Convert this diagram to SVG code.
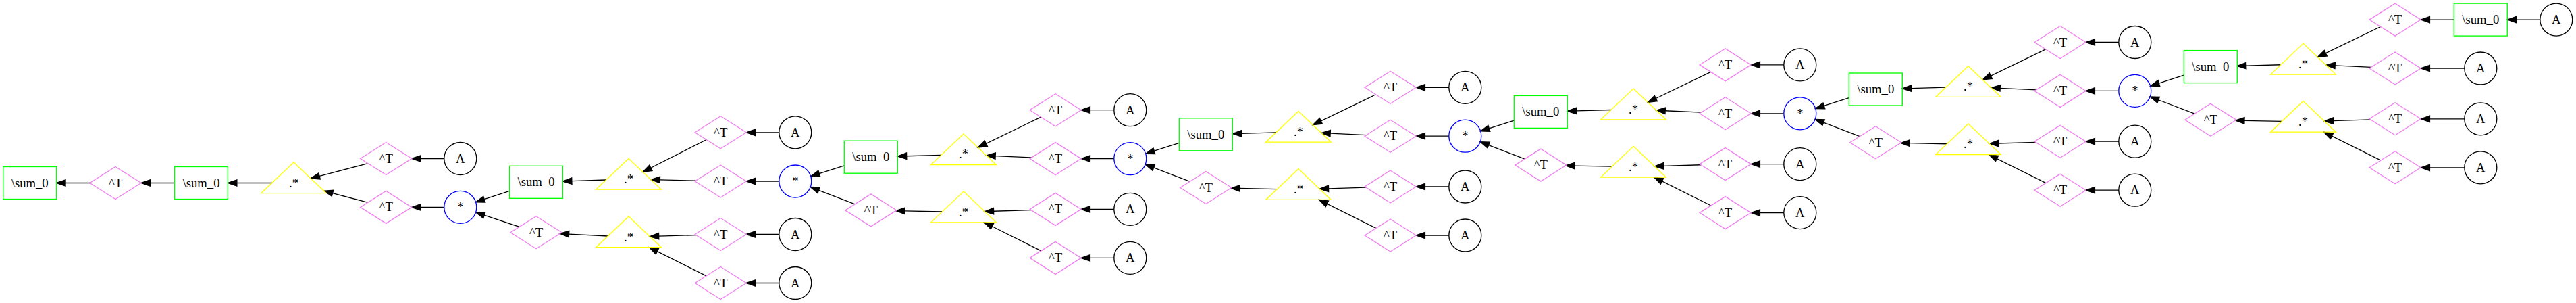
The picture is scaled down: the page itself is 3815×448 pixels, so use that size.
<svg xmlns="http://www.w3.org/2000/svg" width="3815" height="448" viewBox="0 0 3815 448">
<style>
.box{fill:none;stroke:#00ff00;stroke-width:1.33}
.dia{fill:none;stroke:#ee82ee;stroke-width:1.33}
.tri{fill:none;stroke:#ffff00;stroke-width:1.33}
.cir{fill:none;stroke:#000000;stroke-width:1.33}
.mul{fill:none;stroke:#0000ff;stroke-width:1.33}
text{font-family:"Liberation Serif","Times New Roman",serif;font-size:18.67px;text-anchor:middle;fill:#000;stroke:none}
.e path{fill:none;stroke:#000;stroke-width:1.33}
.e polygon{fill:#000;stroke:#000;stroke-width:1.33}
</style>
<defs>
<rect id="sBox" x="-39.5" y="-24" width="79" height="48"/>
<polygon id="sDia" points="0,-24 38,0 0,24 -38,0"/>
<polygon id="sTri" points="0,-30.5 48.3,15.2 -48.3,15.2"/>
<circle id="sCir" r="24"/>
<g id="blockEdges" class="e">
<path d="M72.5,-23.17 L35.56,-11.37"/><polygon points="22.86,-7.31 36.98,-6.92 34.14,-15.82"/>
<path d="M88.35,33.84 L34.86,13.35"/><polygon points="22.41,8.58 33.19,17.71 36.53,8.99"/>
<path d="M215.99,-38.68 L164.83,-37.26"/><polygon points="151.5,-36.89 164.96,-32.59 164.7,-41.93"/>
<path d="M217.62,44.98 L162.18,43.89"/><polygon points="148.85,43.63 162.09,48.56 162.27,39.22"/>
<path d="M363.76,-94.9 L282.56,-55.69"/><polygon points="270.55,-49.9 284.59,-51.48 280.53,-59.9"/>
<path d="M349.86,-35.01 L296.38,-37.45"/><polygon points="283.06,-38.06 296.17,-32.79 296.59,-42.12"/>
<path d="M349.07,42.52 L293.74,44.23"/><polygon points="280.42,44.64 293.88,48.9 293.6,39.56"/>
<path d="M364.06,102.82 L291.64,66.74"/><polygon points="279.71,60.8 289.56,70.92 293.72,62.56"/>
</g>
<g id="leafEdges" class="e">
<path d="M472,-105.3 L436.63,-105.3"/><polygon points="423.3,-105.3 436.63,-109.97 436.63,-100.63"/>
<path d="M472,-33.4 L436.63,-33.4"/><polygon points="423.3,-33.4 436.63,-38.07 436.63,-28.73"/>
<path d="M472,41.4 L436.63,41.4"/><polygon points="423.3,41.4 436.63,36.73 436.63,46.07"/>
<path d="M472,113.4 L436.63,113.4"/><polygon points="423.3,113.4 436.63,108.73 436.63,118.07"/>
</g>
</defs>
<rect width="3815" height="448" fill="#ffffff"/>
<g id="edges" class="e">
<path d="M133,270.5 L97.03,270.5"/><polygon points="83.7,270.5 97.03,265.83 97.03,275.17"/>
<path d="M258.5,270.5 L222.33,270.5"/><polygon points="209,270.5 222.33,265.83 222.33,275.17"/>
<path d="M402.76,270.5 L350.83,270.5"/><polygon points="337.5,270.5 350.83,265.83 350.83,275.17"/>
<path d="M544.88,241.56 L473.11,260.47"/><polygon points="460.22,263.86 474.3,264.99 471.92,255.95"/>
<path d="M544.88,299.44 L492.56,285.66"/><polygon points="479.67,282.26 491.37,290.18 493.75,281.14"/>
<path d="M657.8,234.5 L623.03,234.5"/><polygon points="609.7,234.5 623.03,229.83 623.03,239.17"/>
<path d="M657.8,306.4 L623.03,306.4"/><polygon points="609.7,306.4 623.03,301.73 623.03,311.07"/>
<path d="M754.5,282.36 L717.25,294.67"/><polygon points="704.59,298.86 718.72,299.1 715.78,290.24"/>
<path d="M769.1,335.42 L717.22,318.18"/><polygon points="704.57,313.97 715.75,322.61 718.69,313.75"/>
<path d="M897.63,265.97 L846.82,267.6"/><polygon points="833.5,268.03 846.97,272.27 846.67,262.93"/>
<path d="M900.38,348.98 L842.55,346.11"/><polygon points="829.24,345.45 842.32,350.77 842.78,341.45"/>
<path d="M1046.13,206.49 L963.87,248.22"/><polygon points="951.98,254.25 965.98,252.38 961.76,244.06"/>
<path d="M1030.52,267.17 L977.36,265.95"/><polygon points="964.03,265.65 977.25,270.62 977.47,261.28"/>
<path d="M1030.89,347.57 L975.59,349.19"/><polygon points="962.27,349.58 975.73,353.86 975.45,344.52"/>
<path d="M1045.98,407.9 L973.38,371.65"/><polygon points="961.45,365.7 971.29,375.83 975.47,367.47"/>
<path d="M1153.8,195.8 L1118.53,195.8"/><polygon points="1105.2,195.8 1118.53,191.13 1118.53,200.47"/>
<path d="M1153.8,268 L1118.53,268"/><polygon points="1105.2,268 1118.53,263.33 1118.53,272.67"/>
<path d="M1153.8,346.5 L1118.53,346.5"/><polygon points="1105.2,346.5 1118.53,341.83 1118.53,351.17"/>
<path d="M1153.8,418.5 L1118.53,418.5"/><polygon points="1105.2,418.5 1118.53,413.83 1118.53,423.17"/>
<g transform="translate(1177.8,268)"><use href="#blockEdges"/><use href="#leafEdges"/></g>
<g transform="translate(1673.8,234.6)"><use href="#blockEdges"/><use href="#leafEdges"/></g>
<g transform="translate(2169.8,201.2)"><use href="#blockEdges"/><use href="#leafEdges"/></g>
<g transform="translate(2665.8,167.8)"><use href="#blockEdges"/><use href="#leafEdges"/></g>
<g transform="translate(3161.8,134.4)"><use href="#blockEdges"/>
<path d="M472.3,-105.3 L436.63,-105.3"/><polygon points="423.3,-105.3 436.63,-109.97 436.63,-100.63"/>
<path d="M488,-33.4 L436.63,-33.4"/><polygon points="423.3,-33.4 436.63,-38.07 436.63,-28.73"/>
<path d="M488,41.4 L436.63,41.4"/><polygon points="423.3,41.4 436.63,36.73 436.63,46.07"/>
<path d="M488,113.4 L436.63,113.4"/><polygon points="423.3,113.4 436.63,108.73 436.63,118.07"/>
<path d="M600,-105.3 L564.83,-105.3"/><polygon points="551.5,-105.3 564.83,-109.97 564.83,-100.63"/>
</g>
</g>
<g id="nodes">
<g id="sum_r0" transform="translate(44.2,270.5)"><use href="#sBox" class="box"/><text y="6">\sum_0</text></g>
<g id="T_r1" transform="translate(171,270.5)"><use href="#sDia" class="dia"/><text y="6">^T</text></g>
<g id="sum_r2" transform="translate(298,270.5)"><use href="#sBox" class="box"/><text y="6">\sum_0</text></g>
<g id="emul_r3" transform="translate(435,270.5)"><use href="#sTri" class="tri"/><text y="6">.*</text></g>
<g id="T_r4a" transform="translate(571.7,234.5)"><use href="#sDia" class="dia"/><text y="6">^T</text></g>
<g id="T_r4b" transform="translate(571.7,306.4)"><use href="#sDia" class="dia"/><text y="6">^T</text></g>
<g id="A_r5" transform="translate(681.8,234.5)"><use href="#sCir" class="cir"/><text y="6">A</text></g>
<g id="mul_r5" transform="translate(681.8,306.4)"><use href="#sCir" class="mul"/><text y="6">*</text></g>

<g id="sum_r6" transform="translate(794,269.3)"><use href="#sBox" class="box"/><text y="6">\sum_0</text></g>
<g id="T_r6" transform="translate(794,343.7)"><use href="#sDia" class="dia"/><text y="6">^T</text></g>
<g id="emul_r7a" transform="translate(931,264.9)"><use href="#sTri" class="tri"/><text y="6">.*</text></g>
<g id="emul_r7b" transform="translate(931,350.5)"><use href="#sTri" class="tri"/><text y="6">.*</text></g>
<g id="T_r8a" transform="translate(1067.2,195.8)"><use href="#sDia" class="dia"/><text y="6">^T</text></g>
<g id="T_r8b" transform="translate(1067.2,268)"><use href="#sDia" class="dia"/><text y="6">^T</text></g>
<g id="T_r8c" transform="translate(1067.2,346.5)"><use href="#sDia" class="dia"/><text y="6">^T</text></g>
<g id="T_r8d" transform="translate(1067.2,418.5)"><use href="#sDia" class="dia"/><text y="6">^T</text></g>
<g id="A_r9a" transform="translate(1177.8,195.8)"><use href="#sCir" class="cir"/><text y="6">A</text></g>
<g id="mul_r9" transform="translate(1177.8,268)"><use href="#sCir" class="mul"/><text y="6">*</text></g>
<g id="A_r9c" transform="translate(1177.8,346.5)"><use href="#sCir" class="cir"/><text y="6">A</text></g>
<g id="A_r9d" transform="translate(1177.8,418.5)"><use href="#sCir" class="cir"/><text y="6">A</text></g>

<g id="sum_r10" transform="translate(1289.8,232.2)"><use href="#sBox" class="box"/><text y="6">\sum_0</text></g>
<g id="T_r10" transform="translate(1289.8,310.9)"><use href="#sDia" class="dia"/><text y="6">^T</text></g>
<g id="emul_r11a" transform="translate(1427,228.4)"><use href="#sTri" class="tri"/><text y="6">.*</text></g>
<g id="emul_r11b" transform="translate(1427,313.6)"><use href="#sTri" class="tri"/><text y="6">.*</text></g>
<g id="T_r12a" transform="translate(1563.1,162.7)"><use href="#sDia" class="dia"/><text y="6">^T</text></g>
<g id="T_r12b" transform="translate(1563.1,234.6)"><use href="#sDia" class="dia"/><text y="6">^T</text></g>
<g id="T_r12c" transform="translate(1563.1,309.4)"><use href="#sDia" class="dia"/><text y="6">^T</text></g>
<g id="T_r12d" transform="translate(1563.1,381.4)"><use href="#sDia" class="dia"/><text y="6">^T</text></g>
<g id="A_r13a" transform="translate(1673.8,162.7)"><use href="#sCir" class="cir"/><text y="6">A</text></g>
<g id="mul_r13" transform="translate(1673.8,234.6)"><use href="#sCir" class="mul"/><text y="6">*</text></g>
<g id="A_r13c" transform="translate(1673.8,309.4)"><use href="#sCir" class="cir"/><text y="6">A</text></g>
<g id="A_r13d" transform="translate(1673.8,381.4)"><use href="#sCir" class="cir"/><text y="6">A</text></g>

<g id="sum_r14" transform="translate(1785.8,198.8)"><use href="#sBox" class="box"/><text y="6">\sum_0</text></g>
<g id="T_r14" transform="translate(1785.8,277.5)"><use href="#sDia" class="dia"/><text y="6">^T</text></g>
<g id="emul_r15a" transform="translate(1923,195)"><use href="#sTri" class="tri"/><text y="6">.*</text></g>
<g id="emul_r15b" transform="translate(1923,280.2)"><use href="#sTri" class="tri"/><text y="6">.*</text></g>
<g id="T_r16a" transform="translate(2059.1,129.3)"><use href="#sDia" class="dia"/><text y="6">^T</text></g>
<g id="T_r16b" transform="translate(2059.1,201.2)"><use href="#sDia" class="dia"/><text y="6">^T</text></g>
<g id="T_r16c" transform="translate(2059.1,276)"><use href="#sDia" class="dia"/><text y="6">^T</text></g>
<g id="T_r16d" transform="translate(2059.1,348)"><use href="#sDia" class="dia"/><text y="6">^T</text></g>
<g id="A_r17a" transform="translate(2169.8,129.3)"><use href="#sCir" class="cir"/><text y="6">A</text></g>
<g id="mul_r17" transform="translate(2169.8,201.2)"><use href="#sCir" class="mul"/><text y="6">*</text></g>
<g id="A_r17c" transform="translate(2169.8,276)"><use href="#sCir" class="cir"/><text y="6">A</text></g>
<g id="A_r17d" transform="translate(2169.8,348)"><use href="#sCir" class="cir"/><text y="6">A</text></g>

<g id="sum_r18" transform="translate(2281.8,165.4)"><use href="#sBox" class="box"/><text y="6">\sum_0</text></g>
<g id="T_r18" transform="translate(2281.8,244.1)"><use href="#sDia" class="dia"/><text y="6">^T</text></g>
<g id="emul_r19a" transform="translate(2419,161.6)"><use href="#sTri" class="tri"/><text y="6">.*</text></g>
<g id="emul_r19b" transform="translate(2419,246.8)"><use href="#sTri" class="tri"/><text y="6">.*</text></g>
<g id="T_r20a" transform="translate(2555.1,95.9)"><use href="#sDia" class="dia"/><text y="6">^T</text></g>
<g id="T_r20b" transform="translate(2555.1,167.8)"><use href="#sDia" class="dia"/><text y="6">^T</text></g>
<g id="T_r20c" transform="translate(2555.1,242.6)"><use href="#sDia" class="dia"/><text y="6">^T</text></g>
<g id="T_r20d" transform="translate(2555.1,314.6)"><use href="#sDia" class="dia"/><text y="6">^T</text></g>
<g id="A_r21a" transform="translate(2665.8,95.9)"><use href="#sCir" class="cir"/><text y="6">A</text></g>
<g id="mul_r21" transform="translate(2665.8,167.8)"><use href="#sCir" class="mul"/><text y="6">*</text></g>
<g id="A_r21c" transform="translate(2665.8,242.6)"><use href="#sCir" class="cir"/><text y="6">A</text></g>
<g id="A_r21d" transform="translate(2665.8,314.6)"><use href="#sCir" class="cir"/><text y="6">A</text></g>

<g id="sum_r22" transform="translate(2777.8,132)"><use href="#sBox" class="box"/><text y="6">\sum_0</text></g>
<g id="T_r22" transform="translate(2777.8,210.7)"><use href="#sDia" class="dia"/><text y="6">^T</text></g>
<g id="emul_r23a" transform="translate(2915,128.2)"><use href="#sTri" class="tri"/><text y="6">.*</text></g>
<g id="emul_r23b" transform="translate(2915,213.4)"><use href="#sTri" class="tri"/><text y="6">.*</text></g>
<g id="T_r24a" transform="translate(3051.1,62.5)"><use href="#sDia" class="dia"/><text y="6">^T</text></g>
<g id="T_r24b" transform="translate(3051.1,134.4)"><use href="#sDia" class="dia"/><text y="6">^T</text></g>
<g id="T_r24c" transform="translate(3051.1,209.2)"><use href="#sDia" class="dia"/><text y="6">^T</text></g>
<g id="T_r24d" transform="translate(3051.1,281.2)"><use href="#sDia" class="dia"/><text y="6">^T</text></g>
<g id="A_r25a" transform="translate(3161.8,62.5)"><use href="#sCir" class="cir"/><text y="6">A</text></g>
<g id="mul_r25" transform="translate(3161.8,134.4)"><use href="#sCir" class="mul"/><text y="6">*</text></g>
<g id="A_r25c" transform="translate(3161.8,209.2)"><use href="#sCir" class="cir"/><text y="6">A</text></g>
<g id="A_r25d" transform="translate(3161.8,281.2)"><use href="#sCir" class="cir"/><text y="6">A</text></g>

<g id="sum_r26" transform="translate(3273.8,98.6)"><use href="#sBox" class="box"/><text y="6">\sum_0</text></g>
<g id="T_r26" transform="translate(3273.8,177.3)"><use href="#sDia" class="dia"/><text y="6">^T</text></g>
<g id="emul_r27a" transform="translate(3411,94.8)"><use href="#sTri" class="tri"/><text y="6">.*</text></g>
<g id="emul_r27b" transform="translate(3411,180)"><use href="#sTri" class="tri"/><text y="6">.*</text></g>
<g id="T_r28a" transform="translate(3547.1,29.1)"><use href="#sDia" class="dia"/><text y="6">^T</text></g>
<g id="T_r28b" transform="translate(3547.1,101)"><use href="#sDia" class="dia"/><text y="6">^T</text></g>
<g id="T_r28c" transform="translate(3547.1,175.8)"><use href="#sDia" class="dia"/><text y="6">^T</text></g>
<g id="T_r28d" transform="translate(3547.1,247.8)"><use href="#sDia" class="dia"/><text y="6">^T</text></g>
<g id="sum_r29" transform="translate(3673.8,29.1)"><use href="#sBox" class="box"/><text y="6">\sum_0</text></g>
<g id="A_r29b" transform="translate(3673.8,101)"><use href="#sCir" class="cir"/><text y="6">A</text></g>
<g id="A_r29c" transform="translate(3673.8,175.8)"><use href="#sCir" class="cir"/><text y="6">A</text></g>
<g id="A_r29d" transform="translate(3673.8,247.8)"><use href="#sCir" class="cir"/><text y="6">A</text></g>
<g id="A_r30" transform="translate(3785.8,29.1)"><use href="#sCir" class="cir"/><text y="6">A</text></g>
</g>
</svg>
